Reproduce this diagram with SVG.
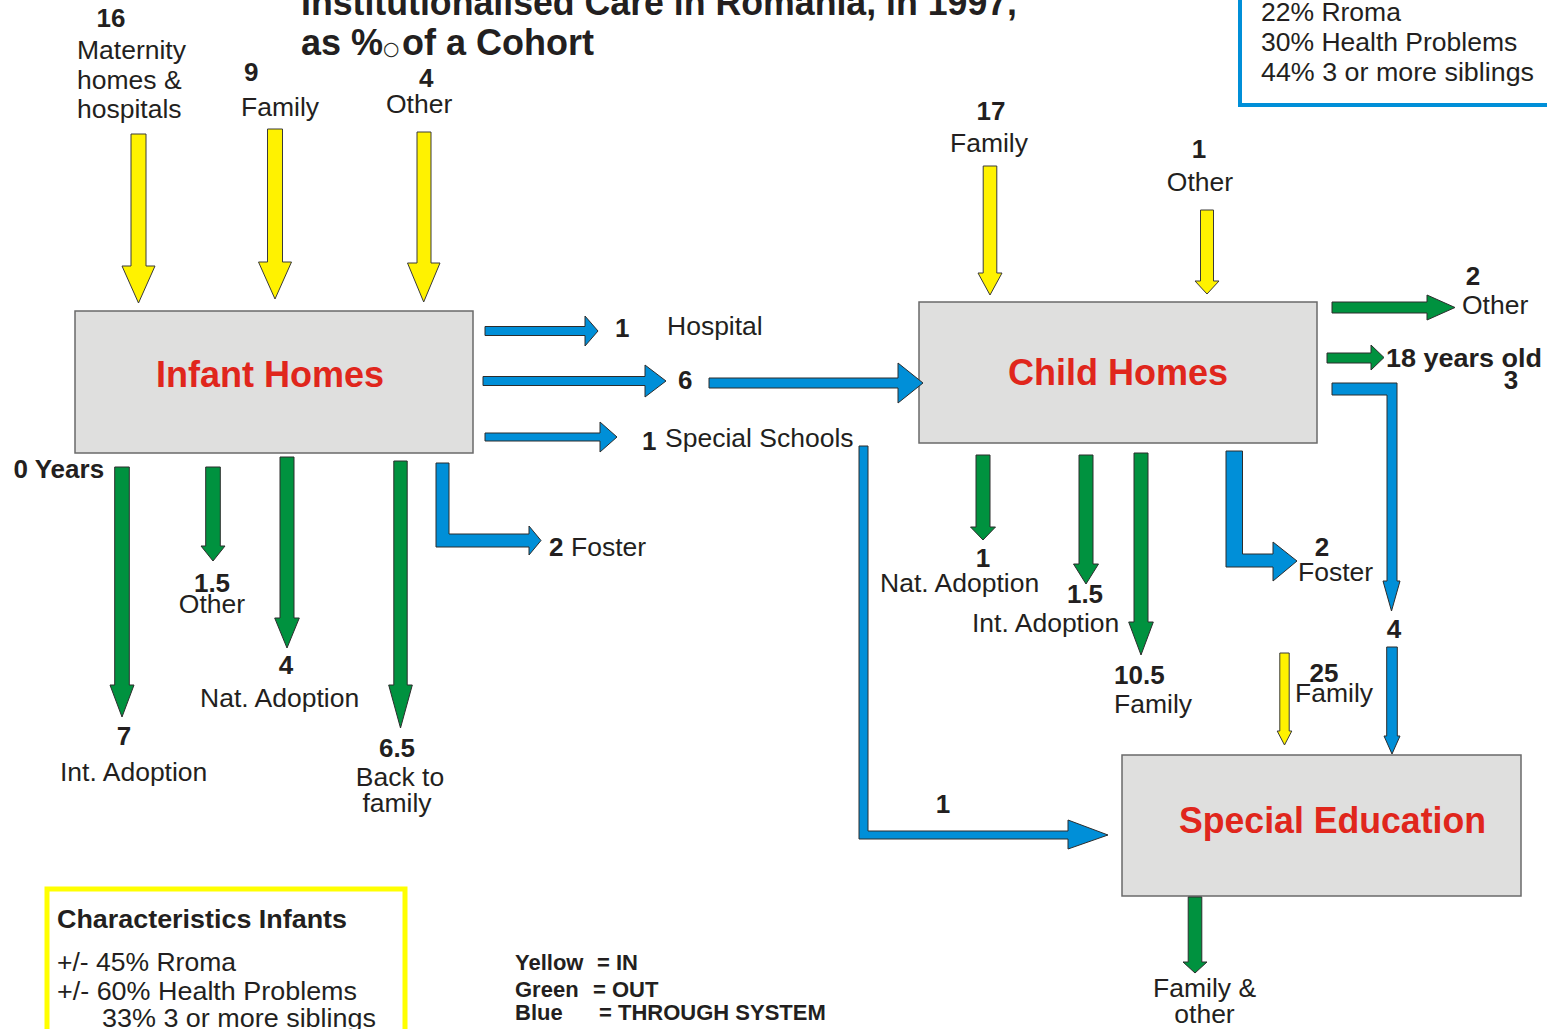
<svg xmlns="http://www.w3.org/2000/svg" width="1547" height="1029" viewBox="0 0 1547 1029">
  <style>
    text { font-family: "Liberation Sans", Arial, sans-serif; fill: #231f20; }
    .t { font-size: 26.5px; }
    .n { font-size: 26px; font-weight: bold; }
    .c { text-anchor: middle; }
    .box { fill: #dfdfde; stroke: #6a6a6a; stroke-width: 1.5; }
    .name { font-size: 36px; font-weight: bold; fill: #e0261c; text-anchor: middle; }
    .name-left { font-size: 36px; font-weight: bold; fill: #e0261c; }
    .in { fill: #fff200; stroke: #3a3a3a; stroke-width: 1; }
    .out { fill: #00923f; stroke: #2d2d2d; stroke-width: 1; }
    .thru { fill: #008fd8; stroke: #2d2d2d; stroke-width: 1; }
    .title { font-size: 36px; font-weight: bold; }
    .leg { font-size: 22px; font-weight: bold; }
  </style>

  <!-- heading -->
  <g id="title">
    <text class="title" x="301" y="15" textLength="716" lengthAdjust="spacingAndGlyphs">Institutionalised Care in Romania, in 1997,</text>
    <text class="title" x="301" y="55">as %<tspan x="383" y="55" font-family="DejaVu Sans, sans-serif" font-weight="normal" font-size="19">○</tspan><tspan x="402" y="55">of a Cohort</tspan></text>
  </g>

  <!-- profile of children in child homes -->
  <g id="characteristics-children">
    <rect x="1240" y="-10" width="330" height="115" fill="none" stroke="#008fd8" stroke-width="4"/>
    <text class="t" x="1261" y="21">22% Rroma</text>
    <text class="t" x="1261" y="51">30% Health Problems</text>
    <text class="t" x="1261" y="81" textLength="273" lengthAdjust="spacingAndGlyphs">44% 3 or more siblings</text>
  </g>

  <!-- institutions -->
  <g id="infant-homes">
    <rect class="box" x="75" y="311" width="398" height="142"/>
    <text class="name" x="270" y="387">Infant Homes</text>
  </g>
  <g id="child-homes">
    <rect class="box" x="919" y="302" width="398" height="141"/>
    <text class="name" x="1118" y="385">Child Homes</text>
  </g>
  <g id="special-education">
    <rect class="box" x="1122" y="755" width="399" height="141"/>
    <text class="name-left" x="1179" y="833" textLength="307" lengthAdjust="spacingAndGlyphs">Special Education</text>
  </g>

  <!-- flows between and out of the institutions -->
  <g id="connectors">
    <!-- intake into infant homes -->
    <polygon class="in" points="131,134 146,134 146,266 155,266 138.5,303 122,266 131,266"/>
    <polygon class="in" points="267.5,129 282.5,129 282.5,262 291.5,262 275,299 258.5,262 267.5,262"/>
    <polygon class="in" points="417,132 431,132 431,263 440,263 423.7,302 407.5,263 417,263"/>
    <!-- intake into child homes -->
    <polygon class="in" points="983.2,166 996.8,166 996.8,273 1002,273 990,295 978,273 983.2,273"/>
    <polygon class="in" points="1200.5,210 1213.5,210 1213.5,281 1219,281 1207,294 1195,281 1200.5,281"/>
    <!-- intake into special education -->
    <polygon class="in" points="1279.8,653 1289.2,653 1289.2,731 1291.8,731 1284.5,745 1277.2,731 1279.8,731"/>

    <!-- exits from infant homes -->
    <polygon class="out" points="114.7,467 129.3,467 129.3,685 134,685 122,717 110,685 114.7,685"/>
    <polygon class="out" points="205.7,467 220.3,467 220.3,546 225,546 213,561 201,546 205.7,546"/>
    <polygon class="out" points="280,457 294,457 294,618 299.3,618 287,648 274.7,618 280,618"/>
    <polygon class="out" points="393.8,461 407.2,461 407.2,685 412.3,685 400.5,728 388.7,685 393.8,685"/>
    <!-- exits from child homes -->
    <polygon class="out" points="976,455 990,455 990,527 995.5,527 983,540 970.5,527 976,527"/>
    <polygon class="out" points="1079,455 1093,455 1093,564 1098.5,564 1086,584 1073.5,564 1079,564"/>
    <polygon class="out" points="1134,453 1148,453 1148,622 1153.3,622 1141,655 1128.7,622 1134,622"/>
    <polygon class="out" points="1332,302 1427,302 1427,295 1455,307.5 1427,320 1427,313 1332,313"/>
    <polygon class="out" points="1327,353 1371,353 1371,345 1384,357.5 1371,370 1371,363 1327,363"/>
    <!-- exit from special education -->
    <polygon class="out" points="1188.2,897 1201.8,897 1201.8,962 1207,962 1195,973 1183,962 1188.2,962"/>

    <!-- transfers through the system -->
    <polygon class="thru" points="485,326.5 585,326.5 585,316 598,331 585,346 585,335.5 485,335.5"/>
    <polygon class="thru" points="483,376.5 645,376.5 645,365 666,381 645,397 645,385.5 483,385.5"/>
    <polygon class="thru" points="485,433 600,433 600,422 617,437 600,452 600,441 485,441"/>
    <polygon class="thru" points="709,378 898,378 898,363 923,383 898,403 898,388 709,388"/>
    <polygon class="thru" points="436,463 449,463 449,534 529,534 529,526 541,540.5 529,555 529,547 436,547"/>
    <polygon class="thru" points="859,446 868,446 868,831 1068,831 1068,820 1108,835 1068,849 1068,839 859,839"/>
    <polygon class="thru" points="1226,451 1242.5,451 1242.5,554 1273,554 1273,542 1297,561 1273,581 1273,567 1226,567"/>
    <polygon class="thru" points="1332,383 1397,383 1397,581 1400,581 1391.5,611 1383,581 1387,581 1387,395 1332,395"/>
    <polygon class="thru" points="1386.7,647 1397.3,647 1397.3,736 1400,736 1392,754 1384,736 1386.7,736"/>
  </g>

  <!-- flow labels -->
  <g id="labels">
    <text class="n c" x="111" y="27">16</text>
    <text class="t" x="77" y="59">Maternity</text>
    <text class="t" x="77" y="88.5">homes &amp;</text>
    <text class="t" x="77" y="118">hospitals</text>
    <text class="n" x="244" y="81">9</text>
    <text class="t" x="241" y="116">Family</text>
    <text class="n" x="419" y="87">4</text>
    <text class="t" x="386" y="113">Other</text>

    <text class="n" x="615" y="337">1</text>
    <text class="t" x="667" y="335">Hospital</text>
    <text class="n" x="678" y="389">6</text>
    <text class="n" x="642" y="450">1</text>
    <text class="t" x="665" y="447">Special Schools</text>

    <text class="n" x="13.5" y="478">0 Years</text>
    <text class="n c" x="212" y="592">1.5</text>
    <text class="t c" x="212" y="613">Other</text>
    <text class="n c" x="286" y="674">4</text>
    <text class="t" x="200" y="707">Nat. Adoption</text>
    <text class="n c" x="124" y="745">7</text>
    <text class="t" x="60" y="781">Int. Adoption</text>
    <text class="n c" x="397" y="757">6.5</text>
    <text class="t c" x="400" y="786">Back to</text>
    <text class="t c" x="397" y="812">family</text>
    <text class="n" x="549" y="556">2</text>
    <text class="t" x="571" y="556">Foster</text>

    <text class="n c" x="991" y="120">17</text>
    <text class="t c" x="989" y="152">Family</text>
    <text class="n c" x="1199" y="158">1</text>
    <text class="t c" x="1200" y="191">Other</text>

    <text class="n c" x="1473" y="285">2</text>
    <text class="t" x="1462" y="314">Other</text>
    <text class="n" x="1386" y="367" textLength="156" lengthAdjust="spacingAndGlyphs">18 years old</text>
    <text class="n c" x="1511" y="389">3</text>

    <text class="n c" x="983" y="567">1</text>
    <text class="t" x="880" y="592">Nat. Adoption</text>
    <text class="n c" x="1085" y="603">1.5</text>
    <text class="t" x="972" y="632">Int. Adoption</text>
    <text class="n" x="1114" y="684">10.5</text>
    <text class="t" x="1114" y="713">Family</text>
    <text class="n c" x="1322" y="556">2</text>
    <text class="t" x="1298" y="581">Foster</text>
    <text class="n c" x="1394" y="638">4</text>
    <text class="n c" x="1324" y="682">25</text>
    <text class="t" x="1295" y="702">Family</text>
    <text class="n c" x="943" y="813">1</text>
    <text class="t" x="1153" y="997">Family &amp;</text>
    <text class="t c" x="1204.5" y="1023">other</text>
  </g>

  <!-- profile of infants -->
  <g id="characteristics-infants">
    <rect x="47" y="889" width="358" height="170" fill="none" stroke="#ffff00" stroke-width="5"/>
    <text class="n" x="57" y="928" textLength="290" lengthAdjust="spacingAndGlyphs">Characteristics Infants</text>
    <text class="t" x="57" y="971">+/- 45% Rroma</text>
    <text class="t" x="57" y="1000" textLength="300" lengthAdjust="spacingAndGlyphs">+/- 60% Health Problems</text>
    <text class="t" x="102" y="1027" textLength="274" lengthAdjust="spacingAndGlyphs">33% 3 or more siblings</text>
  </g>

  <!-- colour key -->
  <g id="legend">
    <text class="leg" x="515" y="970">Yellow<tspan x="597">= IN</tspan></text>
    <text class="leg" x="515" y="997">Green<tspan x="593">= OUT</tspan></text>
    <text class="leg" x="515" y="1020">Blue<tspan x="599">= THROUGH SYSTEM</tspan></text>
  </g>
</svg>
